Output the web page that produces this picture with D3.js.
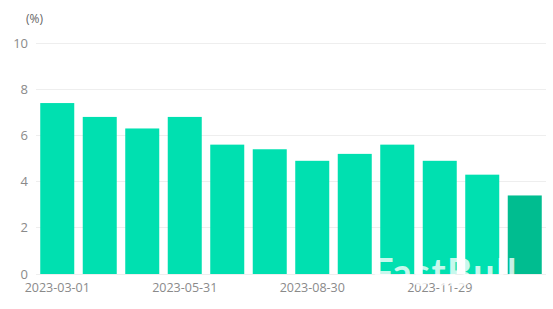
<!DOCTYPE html>
<html><head><meta charset="utf-8">
<script src="https://cdn.jsdelivr.net/npm/d3@7"></script>
<style>body{margin:0;background:#fff;}svg{display:block;font-family:"Open Sans","Noto Sans",sans-serif;}</style>
</head><body><svg id="c" width="553" height="309"></svg>
<script>
const dates = ["2023-03-01","2023-03-29","2023-05-03","2023-05-31","2023-06-28","2023-08-02","2023-08-30","2023-09-27","2023-11-01","2023-11-29","2023-12-27","2024-01-31"];
const values = [7.4,6.8,6.3,6.8,5.6,5.4,4.9,5.2,5.6,4.9,4.3,3.4];
const yTicks = [0,2,4,6,8,10];
const xTickLabels = ["2023-03-01","2023-05-31","2023-08-30","2023-11-29"];

const svg = d3.select("#c");
const x = d3.scaleBand().domain(dates).range([36,546]).paddingInner(0.2).paddingOuter(0.1);
const y = d3.scaleLinear().domain([0,10]).range([274,43]);

svg.append("g").selectAll("line").data(yTicks).join("line")
  .attr("x1",36).attr("x2",546).attr("y1",d=>y(d)).attr("y2",d=>y(d))
  .attr("stroke","#eeeeee").attr("stroke-width",1).attr("shape-rendering","crispEdges");

svg.append("g").selectAll("text").data(yTicks).join("text")
  .attr("x",28).attr("y",d=>y(d)+4.5).attr("text-anchor","end")
  .attr("font-size",13).attr("fill","#8a8a8a").text(d=>d);

svg.append("text").attr("x",26).attr("y",23).attr("font-size",12).attr("fill","#666").text("(%)");

svg.append("g").selectAll("rect").data(values).join("rect")
  .attr("x",(d,i)=>x(dates[i])).attr("width",x.bandwidth())
  .attr("y",d=>y(d)).attr("height",d=>y(0)-y(d))
  .attr("fill",(d,i)=>i===values.length-1?"#00bd90":"#00e0b0");

svg.append("g").selectAll("text").data(xTickLabels).join("text")
  .attr("x",d=>x(d)+x.bandwidth()/2).attr("y",292).attr("text-anchor","middle")
  .attr("font-size",12.5).attr("fill","#8a8a8a").text(d=>d);

svg.append("text").attr("x",445).attr("y",286).attr("text-anchor","middle")
  .attr("font-size",38).attr("font-weight","bold").attr("letter-spacing",1.5)
  .attr("font-family","Lato, 'Open Sans', sans-serif")
  .attr("fill","#ffffff").attr("fill-opacity",0.78).text("FastBull");
</script></body></html>
